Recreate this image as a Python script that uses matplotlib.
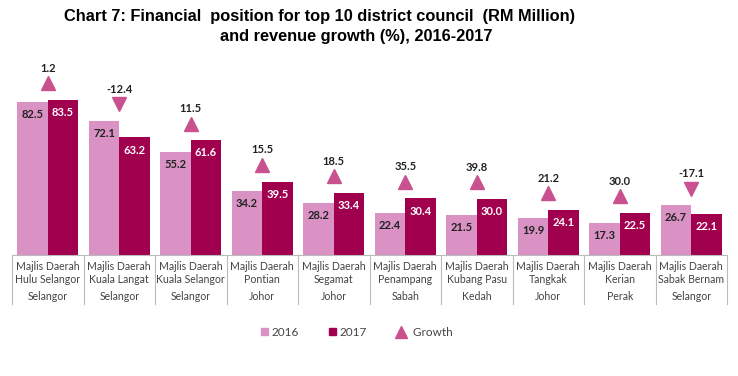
import matplotlib
matplotlib.use("Agg")
import matplotlib.pyplot as plt
import matplotlib.transforms as mtransforms
from matplotlib.lines import Line2D
from matplotlib.patches import Patch
import numpy as np

councils = ["Majlis Daerah\nHulu Selangor", "Majlis Daerah\nKuala Langat", "Majlis Daerah\nKuala Selangor",
            "Majlis Daerah\nPontian", "Majlis Daerah\nSegamat", "Majlis Daerah\nPenampang",
            "Majlis Daerah\nKubang Pasu", "Majlis Daerah\nTangkak", "Majlis Daerah\nKerian",
            "Majlis Daerah\nSabak Bernam"]
states = ["Selangor", "Selangor", "Selangor", "Johor", "Johor", "Sabah", "Kedah", "Johor", "Perak", "Selangor"]
v2016 = [82.5, 72.1, 55.2, 34.2, 28.2, 22.4, 21.5, 19.9, 17.3, 26.7]
v2017 = [83.5, 63.2, 61.6, 39.5, 33.4, 30.4, 30.0, 24.1, 22.5, 22.1]
growth = [1.2, -12.4, 11.5, 15.5, 18.5, 35.5, 39.8, 21.2, 30.0, -17.1]

c16 = "#D992C3"
c17 = "#A0004E"
ctri = "#C9518F"
font = "Lato"

W, H = 738, 376
fig = plt.figure(figsize=(W/100, H/100), dpi=100)
left, right = 12/W, 727/W
base = 1 - 255/H
ax = fig.add_axes([left, base, right-left, 186/H])
ax.set_xlim(-0.5, len(councils)-0.5)
ax.set_ylim(0, 100)
ax.axis("off")

x = np.arange(len(councils))
bw = 0.425
ax.bar(x - bw/2, v2016, bw, color=c16)
ax.bar(x + bw/2, v2017, bw, color=c17)

for i in range(len(x)):
    ax.text(x[i]-bw/2, v2016[i]-3.8, f"{v2016[i]:.1f}", ha="center", va="top",
            fontsize=8, fontweight="bold", color="#222222", family=font)
    ax.text(x[i]+bw/2, v2017[i]-3.8, f"{v2017[i]:.1f}", ha="center", va="top",
            fontsize=8, fontweight="bold", color="white", family=font)
    my = max(v2016[i], v2017[i]) + 9
    mk = "^" if growth[i] >= 0 else "v"
    ax.plot(x[i], my, marker=mk, color=ctri, markersize=10, clip_on=False, linestyle="none")
    ax.text(x[i], my + 5, f"{growth[i]:.1f}", ha="center", va="bottom",
            fontsize=8, fontweight="bold", color="#222222", family=font)

# category table
trans = mtransforms.blended_transform_factory(ax.transData, fig.transFigure)
gcol = "#BBBBBB"
fig.add_artist(Line2D([left, right], [base, base], color=gcol, lw=0.8))
for b in np.arange(-0.5, len(councils), 1.0):
    ax.add_line(Line2D([b, b], [base, 1-304/H], transform=trans, color=gcol, lw=0.8, clip_on=False))
for i in range(len(x)):
    ax.text(x[i], 1-273/H, councils[i], transform=trans, ha="center", va="center",
            fontsize=7.6, color="#444444", family=font, linespacing=1.15, clip_on=False)
    ax.text(x[i], 1-297/H, states[i], transform=trans, ha="center", va="center",
            fontsize=7.6, color="#444444", family=font, clip_on=False)

# title
tfam = ["Liberation Sans"]
fig.text(320/W, 1-17/H, "Chart 7: Financial  position for top 10 district council  (RM Million)",
         ha="center", va="center", fontsize=11.8, fontweight="bold", family=tfam)
fig.text(356/W, 1-36/H, "and revenue growth (%), 2016-2017",
         ha="center", va="center", fontsize=11.8, fontweight="bold", family=tfam)

handles = [Patch(color=c16, label="2016"), Patch(color=c17, label="2017"),
           Line2D([], [], marker="^", color=ctri, linestyle="none", markersize=9, label="  Growth")]
fig.legend(handles=handles, loc="center", bbox_to_anchor=(357/W, 1-332/H), ncol=3, frameon=False,
           prop={"family": font, "size": 8.5}, handlelength=0.6, handleheight=0.6, columnspacing=2.6,
           handletextpad=0.25, labelcolor="#444444")

fig.savefig("out.png", dpi=100)
